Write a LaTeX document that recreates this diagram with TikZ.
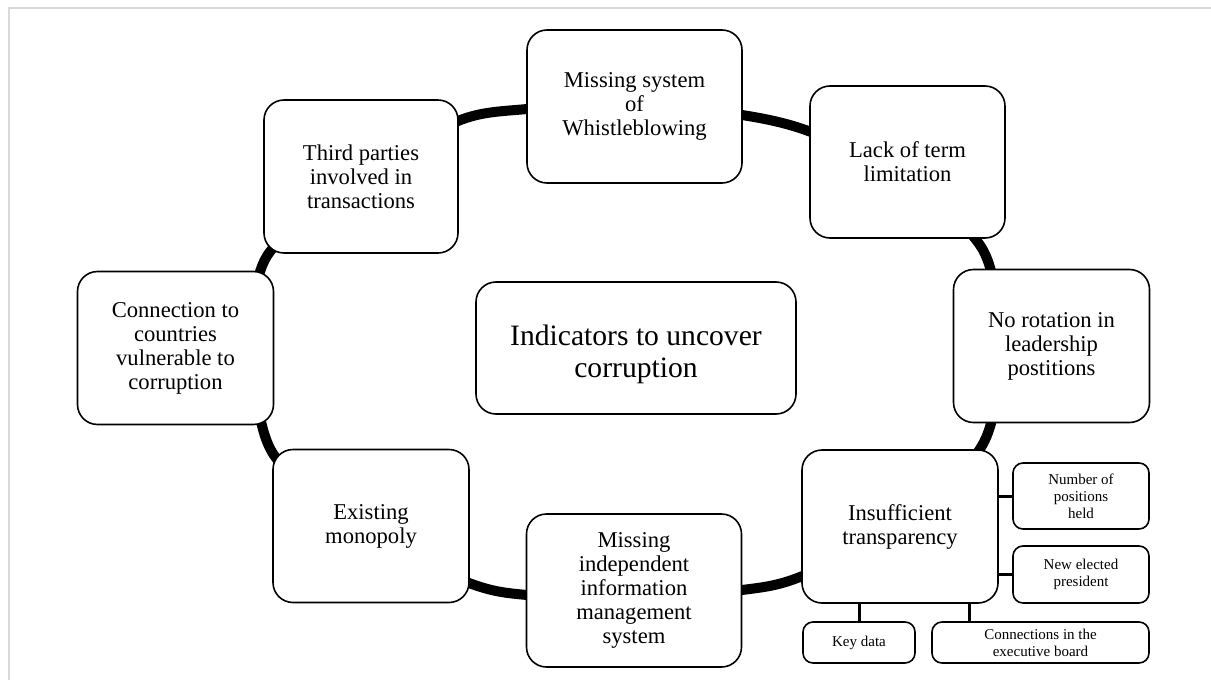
\documentclass[tikz,border=0pt]{standalone}
\usepackage{fontspec}
\setmainfont{Liberation Serif}
\begin{document}
\begin{tikzpicture}[x=0.5pt,y=-0.5pt,
    box/.style={draw,fill=white,rounded corners=10pt,line width=0.8pt,align=center,inner sep=0pt,
      minimum width=98pt,minimum height=76.5pt,font=\fontsize{11.3}{12}\selectfont},
    wide/.style={box,minimum width=107.5pt},
    sub/.style={draw,fill=white,rounded corners=5pt,line width=0.8pt,align=center,inner sep=0pt,
      minimum width=68pt,font=\fontsize{7.5}{8.5}\selectfont},
    link/.style={line width=1.5pt}]
    \useasboundingbox (0,0) rectangle (1211,680);
    %% frame
    \draw[line width=1pt,black!15] (1211,7.5) -- (9,7.5) -- (9,680);
    %% ring
    \draw[line width=5pt] plot[smooth cycle] coordinates {
        (458,121) (527,109) (634,104) (742,115) (811,132) (905,177) (983,250) (999,345)
        (984,442) (905,527) (800,577) (742,590) (634,598) (527,595) (469,583) (365,535)
        (272,452) (254,348) (267,256) (360,178)};
    %% indicators
    \node[wide] (whistle) at (634.5,106.5) {Missing system\\of\\Whistleblowing};
    \node[box,minimum width=97.5pt,minimum height=76pt] (term) at (907.5,162) {Lack of term\\limitation};
    \node[box] (rotation) at (1051.5,346) {No rotation in\\leadership\\postitions};
    \node[box] (insuf) at (900,526.5) {Insufficient\\transparency};
    \node[wide] (infosys) at (634,590.5) {Missing\\independent\\information\\management\\system};
    \node[box] (monopoly) at (371,526) {Existing\\monopoly};
    \node[box] (countries) at (175.5,348) {Connection to\\countries\\vulnerable to\\corruption};
    \node[box,minimum width=97pt] (third) at (361,176.5) {Third parties\\involved in\\transactions};
    %% centre
    \node[box,minimum width=160pt,minimum height=66pt,font=\fontsize{14.8}{16}\selectfont] (core) at (636,348)
        {\rule{0pt}{17pt}Indicators to uncover\\corruption};
    %% transparency details
    \node[sub,minimum height=33pt] (positions) at (1081,496) {Number of\\positions\\held};
    \node[sub,minimum height=28.5pt] (president) at (1081,574.5) {New elected\\president};
    \node[sub,minimum width=56pt,minimum height=20.5pt] (keydata) at (859,642.5) {Key data};
    \node[sub,minimum width=108.5pt,minimum height=20.5pt] (board) at (1040.5,642.5)
        {Connections in the\\executive board};
    \coordinate (boardtop) at ([xshift=19pt]board.north west);
    \draw[link] (positions.west) -- (positions.west -| insuf.east);
    \draw[link] (president.west) -- (president.west -| insuf.east);
    \draw[link] (keydata.north) -- (keydata.north |- insuf.south);
    \draw[link] (boardtop) -- (boardtop |- insuf.south);
\end{tikzpicture}
\end{document}
